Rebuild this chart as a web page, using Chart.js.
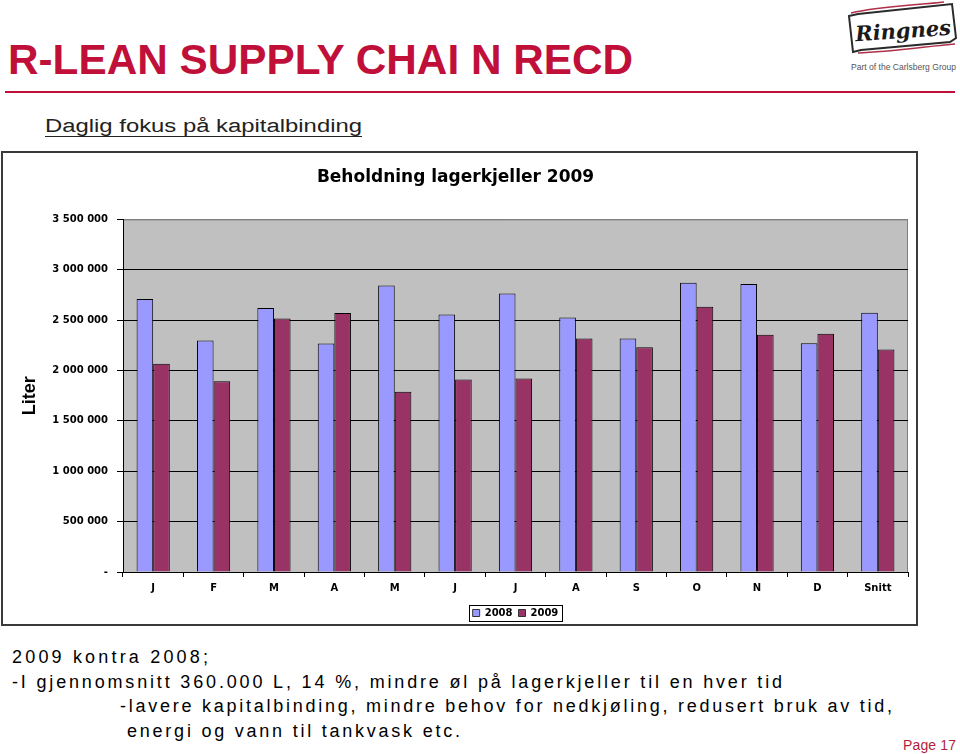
<!DOCTYPE html>
<html>
<head>
<meta charset="utf-8">
<script src="https://cdn.jsdelivr.net/npm/chart.js@4.4.1/dist/chart.umd.min.js"></script>
<style>
  html, body { margin:0; padding:0; background:#fff; }
  body { width:960px; height:754px; position:relative; overflow:hidden; }
  #page { position:absolute; left:0; top:0; }
  #box { position:absolute; left:1px; top:151px; width:917px; height:475px; box-sizing:border-box; border:2px solid #3a3a3a; background:#fff; }
  #c { position:absolute; left:0; top:0; }
</style>
</head>
<body>
<svg id="page" width="960" height="754" xmlns="http://www.w3.org/2000/svg">
  <text x="8" y="74" font-family="Liberation Sans, Arial, sans-serif" font-weight="bold" font-size="42" fill="#C0103A" textLength="625" lengthAdjust="spacingAndGlyphs">R-LEAN SUPPLY CHAI N RECD</text>
  <rect x="5" y="91" width="950" height="2" fill="#C0103A"/>
  <text x="45" y="132" font-family="Liberation Sans, Arial, sans-serif" font-size="18" fill="#222" textLength="317" lengthAdjust="spacingAndGlyphs">Daglig fokus på kapitalbinding</text>
  <rect x="45" y="136" width="317" height="1" fill="#222"/>
  <!-- logo -->
  <path d="M849,16 L858,14 L952,4 L956,38 L950,42 L861,50 L853,52 Z" fill="#fff" stroke="#2a2a2a" stroke-width="2"/>
  <path d="M851,13 C880,6 920,5 944,2" fill="none" stroke="#B0304A" stroke-width="1.5"/>
  <path d="M858,53 C890,52 930,46 955,44" fill="none" stroke="#B0304A" stroke-width="1.5"/>
  <text x="903" y="38" text-anchor="middle" font-family="DejaVu Serif, serif" font-style="italic" font-weight="bold" font-size="21" fill="#1a1a1a" transform="rotate(-4 903 30)">Ringnes</text>
  <text x="851" y="70" font-family="Liberation Sans, Arial, sans-serif" font-size="9" fill="#555" textLength="105" lengthAdjust="spacingAndGlyphs">Part of the Carlsberg Group</text>
  <!-- bottom text -->
  <text x="12" y="663" font-family="Liberation Sans, Arial, sans-serif" font-size="18" fill="#000" textLength="196" lengthAdjust="spacing">2009 kontra 2008;</text>
  <text x="12" y="688" font-family="Liberation Sans, Arial, sans-serif" font-size="18" fill="#000" textLength="770" lengthAdjust="spacing">-I gjennomsnitt 360.000 L, 14 %, mindre øl på lagerkjeller til en hver tid</text>
  <text x="120" y="712" font-family="Liberation Sans, Arial, sans-serif" font-size="18" fill="#000" textLength="772" lengthAdjust="spacing">-lavere kapitalbinding, mindre behov for nedkjøling, redusert bruk av tid,</text>
  <text x="127" y="737" font-family="Liberation Sans, Arial, sans-serif" font-size="18" fill="#000" textLength="333" lengthAdjust="spacing">energi og vann til tankvask etc.</text>
  <text x="903" y="750" font-family="Liberation Sans, Arial, sans-serif" font-size="14" fill="#B01E3C" textLength="53" lengthAdjust="spacing">Page 17</text>
</svg>
<div id="box"><canvas id="c" width="913" height="471"></canvas></div>
<script>
const categories = ['J','F','M','A','M','J','J','A','S','O','N','D','Snitt'];
const values2008 = [2709000, 2297000, 2620000, 2267000, 2844000, 2557000, 2765000, 2527000, 2317000, 2870000, 2860000, 2270000, 2574000];
const values2009 = [2066000, 1894000, 2517000, 2571000, 1790000, 1911000, 1921000, 2317000, 2231000, 2633000, 2356000, 2366000, 2208000];
const yTickValues = [0, 500000, 1000000, 1500000, 2000000, 2500000, 3000000, 3500000];
const yTickLabels = ['-', '500 000', '1 000 000', '1 500 000', '2 000 000', '2 500 000', '3 000 000', '3 500 000'];
const seriesNames = ['2008', '2009'];
const chartTitle = 'Beholdning lagerkjeller 2009';
const yAxisTitle = 'Liter';

const plotBg = {
  id: 'plotBg',
  afterLayout(chart) {
    const lg = chart.legend;
    if (lg) { lg.top += 4; lg.bottom += 4; }
  },
  beforeDraw(chart) {
    const {ctx, chartArea: a} = chart;
    ctx.save();
    ctx.fillStyle = '#C0C0C0';
    ctx.fillRect(a.left, a.top, a.right - a.left, a.bottom - a.top);
    ctx.strokeStyle = '#808080';
    ctx.lineWidth = 1;
    ctx.beginPath();
    ctx.moveTo(a.left, a.top + 0.5); ctx.lineTo(a.right - 0.5, a.top + 0.5); ctx.lineTo(a.right - 0.5, a.bottom);
    ctx.stroke();
    ctx.restore();
  },
  afterDraw(chart) {
    const lg = chart.legend;
    if (!lg || !lg.legendHitBoxes || !lg.legendHitBoxes.length) return;
    const hb = lg.legendHitBoxes;
    let l = Infinity, r = -Infinity, t = Infinity, b = -Infinity;
    hb.forEach(h => { l = Math.min(l, h.left); r = Math.max(r, h.left + h.width); t = Math.min(t, h.top); b = Math.max(b, h.top + h.height); });
    const ctx = chart.ctx;
    ctx.save();
    ctx.strokeStyle = '#000';
    ctx.lineWidth = 1;
    ctx.strokeRect(Math.round(l - 4) + 0.5, Math.round(t - 3) + 0.5, Math.round(r - l + 7), Math.round(b - t + 6));
    ctx.restore();
  }
};

new Chart(document.getElementById('c'), {
  type: 'bar',
  data: {
    labels: categories,
    datasets: [
      { label: seriesNames[0], data: values2008, backgroundColor: '#9999FF', borderColor: '#000', borderWidth: 1, borderSkipped: 'bottom' },
      { label: seriesNames[1], data: values2009, backgroundColor: '#993366', borderColor: '#000', borderWidth: 1, borderSkipped: 'bottom' }
    ]
  },
  plugins: [plotBg],
  options: {
    responsive: false,
    animation: false,
    devicePixelRatio: 1,
    layout: { padding: { left: 0, right: 8, top: 0, bottom: 0 } },
    datasets: { bar: { categoryPercentage: 0.55, barPercentage: 1.0 } },
    plugins: {
      title: {
        display: true, text: chartTitle, color: '#000',
        font: { family: 'DejaVu Sans, sans-serif', weight: 'bold', size: 17 },
        padding: { top: 14, bottom: 32 }
      },
      legend: {
        display: true, position: 'bottom', fullSize: false,
        labels: {
          color: '#000', boxWidth: 7, boxHeight: 7, padding: 6,
          font: { family: 'DejaVu Sans, sans-serif', weight: 'bold', size: 10 },
          generateLabels(chart) {
            return chart.data.datasets.map((d, i) => ({
              text: d.label, fillStyle: d.backgroundColor, strokeStyle: '#333', lineWidth: 1,
              fontColor: '#000', datasetIndex: i, hidden: false
            }));
          }
        }
      },
      tooltip: { enabled: false }
    },
    scales: {
      x: {
        grid: { offset: true, drawOnChartArea: false, drawTicks: true, tickLength: 5, color: '#000', tickColor: '#000' },
        border: { display: true, color: '#000', width: 1 },
        ticks: { color: '#000', padding: 5, font: { family: 'DejaVu Sans, sans-serif', weight: 'bold', size: 10 } },
        afterFit(s) { s.height = 26; }
      },
      y: {
        min: 0, max: 3500000,
        afterBuildTicks(s) { s.ticks = yTickValues.map(v => ({ value: v })); },
        grid: {
          drawTicks: true, tickLength: 6, tickColor: '#000',
          color: ctx => (ctx.tick && ctx.tick.value === 3500000) ? '#808080' : '#000'
        },
        border: { display: true, color: '#000', width: 1 },
        ticks: {
          color: '#000', padding: 9,
          font: { family: 'DejaVu Sans, sans-serif', weight: 'bold', size: 10 },
          callback(v) { const i = yTickValues.indexOf(v); return i >= 0 ? yTickLabels[i] : ''; }
        },
        title: {
          display: true, text: yAxisTitle, color: '#000',
          font: { family: 'Liberation Sans, Arial, sans-serif', weight: 'bold', size: 18 },
          padding: { top: 16, bottom: 0 }
        },
        afterFit(s) { s.width = 120; }
      }
    }
  }
});
</script>
</body>
</html>
